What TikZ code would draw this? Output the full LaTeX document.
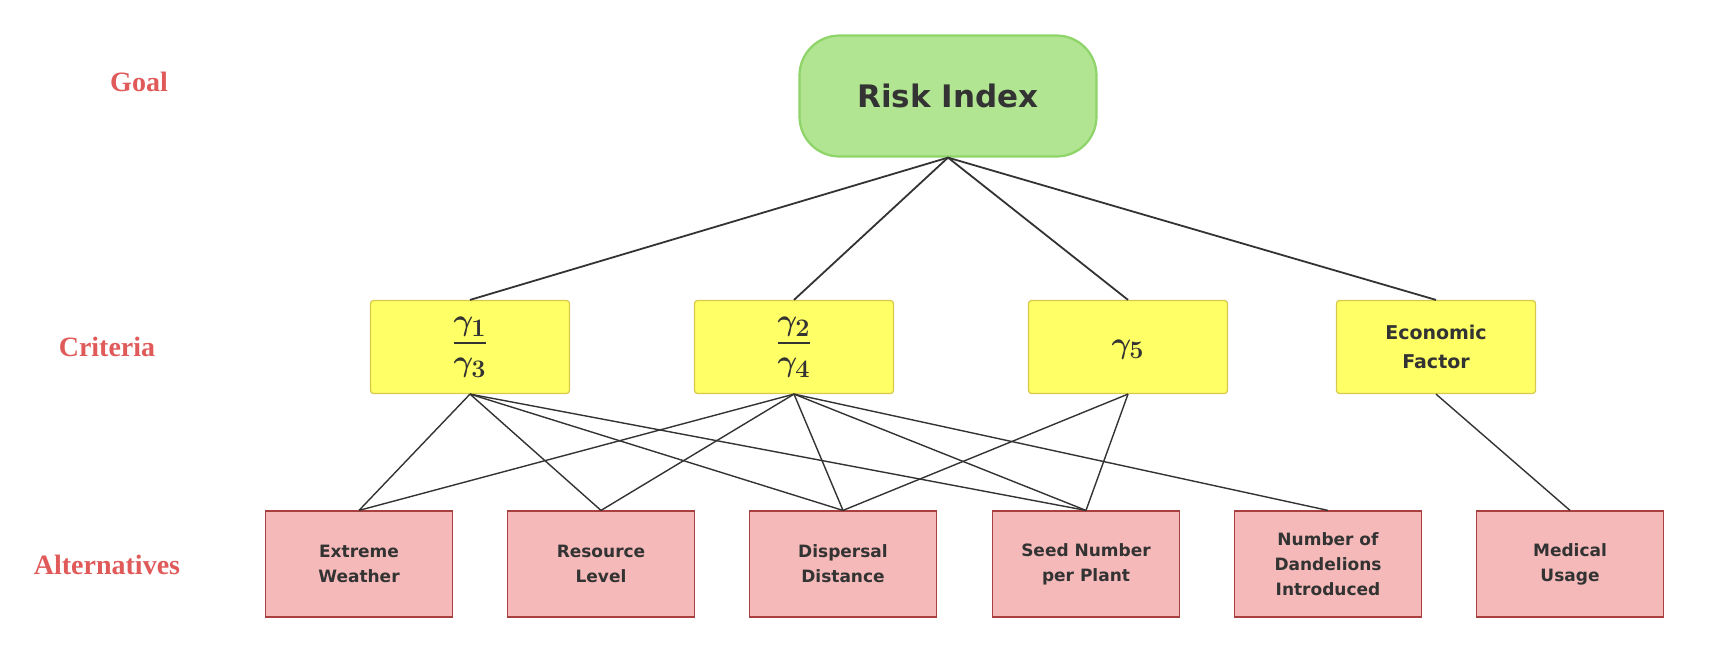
\documentclass[tikz,border=0pt]{standalone}
\usepackage{amsmath, bm}
\usepackage{graphicx}
\usepackage[no-math]{fontspec}
\setmainfont{DejaVu Sans}
\newfontfamily\levelfont{Liberation Serif}
\usepackage{tikz}

\definecolor{goalfill}{HTML}{B1E591}
\definecolor{goalborder}{HTML}{8ED468}
\definecolor{critfill}{HTML}{FFFF66}
\definecolor{critborder}{HTML}{D6C94C}
\definecolor{altfill}{HTML}{F5B9B9}
\definecolor{altborder}{HTML}{A8403F}
\definecolor{labelred}{HTML}{E05A5A}
\definecolor{txtgray}{HTML}{333333}

\begin{document}
\begin{tikzpicture}[x=1pt, y=-1pt,
    goalbox/.style={draw=goalborder, fill=goalfill, line width=2.2pt, rounded corners=40pt,
        minimum width=297pt, minimum height=121pt, text=txtgray, font=\bfseries\fontsize{31}{36}\selectfont},
    critbox/.style={draw=critborder, fill=critfill, line width=1.2pt, rounded corners=3pt,
        minimum width=199pt, minimum height=93pt, align=center, text=txtgray, font=\bfseries\fontsize{19}{29}\selectfont},
    altbox/.style={draw=altborder, fill=altfill, line width=1.2pt,
        minimum width=187pt, minimum height=106pt, align=center, text=txtgray, font=\bfseries\fontsize{17}{25}\selectfont},
    levellabel/.style={text=labelred, font=\levelfont\bfseries\fontsize{28}{32}\selectfont},
    link/.style={draw=txtgray, line width=1.4pt}]
    \useasboundingbox (0,0) rectangle (1711,664);

    % level labels
    \node[levellabel] (lgoal) at (139,82) {Goal};
    \node[levellabel] (lcrit) at (107,347) {Criteria};
    \node[levellabel] (lalt) at (107,565) {Alternatives};

    % goal
    \node[goalbox] (goal) at (948,96) {Risk Index};

    % criteria
    \node[critbox] (c1) at (470,347) {\scalebox{1.75}{$\dfrac{\bm{\gamma_1}}{\bm{\gamma_3}}$}};
    \node[critbox] (c2) at (794,347) {\scalebox{1.75}{$\dfrac{\bm{\gamma_2}}{\bm{\gamma_4}}$}};
    \node[critbox] (c3) at (1128,347) {\raisebox{-6pt}[0pt][0pt]{\scalebox{1.75}{$\bm{\gamma_5}$}}};
    \node[critbox] (c4) at (1436,347) {Economic\\Factor};

    % alternatives
    \node[altbox] (a1) at (359,564) {Extreme\\Weather};
    \node[altbox] (a2) at (601,564) {Resource\\Level};
    \node[altbox] (a3) at (843,564) {Dispersal\\Distance};
    \node[altbox] (a4) at (1086,564) {Seed Number\\per Plant};
    \node[altbox] (a5) at (1328,564) {Number of\\Dandelions\\Introduced};
    \node[altbox] (a6) at (1570,564) {Medical\\Usage};

    % connectors
    \foreach \c in {c1,c2,c3,c4}
        \draw[link, line width=1.8pt] (goal.south) -- (\c.north);
    \foreach \a in {a1,a2,a3,a4}
        \draw[link] (c1.south) -- (\a.north);
    \foreach \a in {a1,a2,a3,a4,a5}
        \draw[link] (c2.south) -- (\a.north);
    \foreach \a in {a3,a4}
        \draw[link] (c3.south) -- (\a.north);
    \draw[link] (c4.south) -- (a6.north);
\end{tikzpicture}
\end{document}
